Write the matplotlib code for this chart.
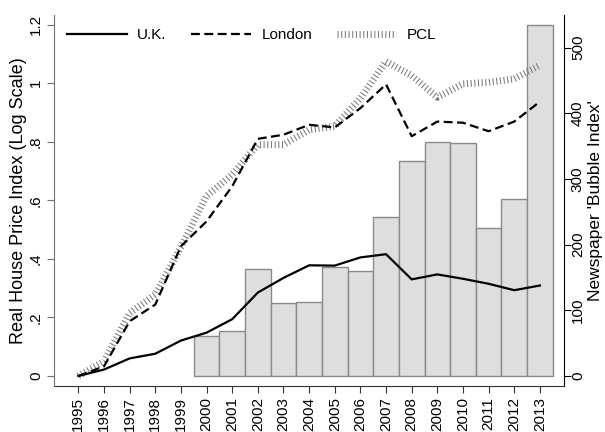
import matplotlib
matplotlib.use("Agg")
import matplotlib.pyplot as plt
import numpy as np

years = list(range(1995, 2014))
uk = [0.0, 0.022, 0.060, 0.076, 0.121, 0.148, 0.194, 0.285, 0.335, 0.378,
      0.377, 0.405, 0.416, 0.330, 0.347, 0.332, 0.315, 0.293, 0.309]
london = [0.0, 0.033, 0.187, 0.244, 0.443, 0.528, 0.648, 0.810, 0.824, 0.858,
          0.849, 0.915, 0.996, 0.819, 0.869, 0.865, 0.836, 0.869, 0.937]
pcl = [0.0, 0.050, 0.215, 0.278, 0.440, 0.615, 0.688, 0.790, 0.790, 0.841,
       0.853, 0.949, 1.074, 1.026, 0.952, 0.998, 1.003, 1.015, 1.062]

bar_years = list(range(2000, 2014))
bubble = [61, 68, 163, 111, 112, 166, 160, 242, 327, 356, 355, 226, 269, 534]

left_ticks = [0, 0.2, 0.4, 0.6, 0.8, 1.0, 1.2]
left_ticklabels = ["0", ".2", ".4", ".6", ".8", "1", "1.2"]
right_ticks = [0, 100, 200, 300, 400, 500]

plt.rcParams['font.family'] = ['Liberation Sans', 'DejaVu Sans']
FS = 11
LFS = 12.5

fig = plt.figure(figsize=(6.05, 4.32), dpi=100)
W, H = 605, 432
x0, x1, ytop, ybot = 54, 564, 15, 386
axb = fig.add_axes([x0 / W, 1 - ybot / H, (x1 - x0) / W, (ybot - ytop) / H])
axl = axb.twinx()

# bars (right scale) on the base axes
axb.bar(bar_years, bubble, width=1.0, color='#dedede', edgecolor='#8a8a8a',
        linewidth=1.0, zorder=2)
axb.set_ylim(-15.2, 549.5)
axb.set_xlim(1994.05, 2013.94)
axb.yaxis.tick_right()
axb.set_yticks(right_ticks)
axb.set_yticklabels([str(t) for t in right_ticks], rotation=90, va='center',
                    fontsize=FS)
axb.set_xticks(years)
axb.set_xticklabels([str(y) for y in years], rotation=90, fontsize=FS)

# lines (left scale) on the twin axes
axl.plot(years, pcl, color='#7a7a7a', linewidth=5.0,
         dashes=(0.15, 0.38), dash_capstyle='butt', label='PCL', zorder=3)
axl.plot(years, london, color='black', linewidth=1.6, dashes=(4, 2),
         label='London', zorder=4)
axl.plot(years, uk, color='black', linewidth=1.6, label='U.K.', zorder=5)
axl.set_ylim(-0.0342, 1.233)
axl.yaxis.tick_left()
axl.set_yticks(left_ticks)
axl.set_yticklabels(left_ticklabels, rotation=90, va='center', fontsize=FS)

# axis titles
yc = 1 - ((ytop + ybot) / 2) / H
fig.text(18.5 / W, yc, "Real House Price Index (Log Scale)", rotation=90,
         ha='center', va='center', fontsize=13)
fig.text(595.5 / W, yc, "Newspaper 'Bubble Index'", rotation=90,
         ha='center', va='center', fontsize=LFS)

for ax in (axb, axl):
    ax.spines['top'].set_visible(False)
axl.spines['right'].set_visible(False)
axl.spines['bottom'].set_visible(False)
axb.spines['left'].set_visible(False)
axl.spines['left'].set_color('#707070')
axb.spines['right'].set_color('black')
axb.spines['bottom'].set_color('#333333')
axl.tick_params(axis='y', direction='out', length=5, color='#707070', pad=3)
axb.tick_params(axis='y', direction='out', length=5, color='black', pad=0)
axb.tick_params(axis='x', direction='out', length=5, color='#333333', pad=3)

h, l = axl.get_legend_handles_labels()
order = [2, 1, 0]
leg = axl.legend([h[i] for i in order], [l[i] for i in order], ncol=3,
                 frameon=False, fontsize=FS, loc='center left',
                 bbox_to_anchor=((67 - x0) / (x1 - x0), (ybot - 35) / (ybot - ytop)),
                 borderaxespad=0, borderpad=0, handlelength=3.9,
                 handletextpad=0.7, columnspacing=1.6)

fig.savefig('out.png', dpi=100)
